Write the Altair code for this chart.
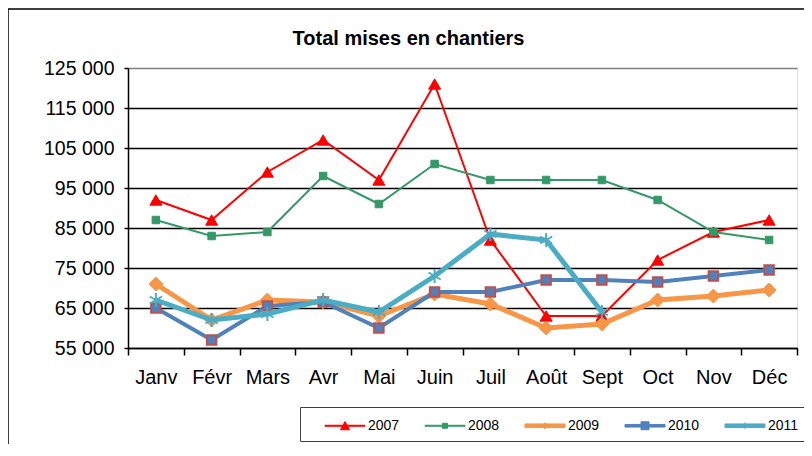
import altair as alt
import pandas as pd

months = ["Janv", "Févr", "Mars", "Avr", "Mai", "Juin", "Juil", "Août", "Sept", "Oct", "Nov", "Déc"]
years = ["2007", "2008", "2009", "2010", "2011"]
v2007 = [92000, 87000, 99000, 107000, 97000, 121000, 82000, 63000, 63000, 77000, 84000, 87000]
v2008 = [87000, 83000, 84000, 98000, 91000, 101000, 97000, 97000, 97000, 92000, 84000, 82000]
v2009 = [71000, 62000, 67000, 66500, 63000, 68500, 66000, 60000, 61000, 67000, 68000, 69500]
v2010 = [65000, 57000, 65500, 66500, 60000, 69000, 69000, 72000, 72000, 71500, 73000, 74500]
v2011 = [67000, 62000, 63500, 67000, 64000, 73000, 83500, 82000, 64000]
y_ticks = [55000, 65000, 75000, 85000, 95000, 105000, 115000, 125000]

series = {"2007": v2007, "2008": v2008, "2009": v2009, "2010": v2010, "2011": v2011}
rows = []
for yr, vals in series.items():
    for i, v in enumerate(vals):
        rows.append({"year": yr, "month": months[i], "idx": i, "value": v})
df = pd.DataFrame(rows)

line_colors = ["#FF0000", "#339966", "#F79646", "#4F81BD", "#4BACC6"]
line_widths = [2, 2, 5, 4, 5]
marker_fill = ["#FF0000", "#339966", "#F79646", "#4F81BD", "#4BACC6"]
marker_stroke = ["#FF0000", "#339966", "#F79646", "#C0504D", "#4BACC6"]
marker_stroke_w = [1, 1, 1, 2, 2]
asterisk = "M0,-1V1M-0.87,-0.5L0.87,0.5M-0.87,0.5L0.87,-0.5"
marker_shapes = ["triangle-up", "square", "diamond", "square", asterisk]
marker_sizes = [144, 56, 196, 90, 196]

# legend symbols: filled bar (the line) + marker, shifted right of the entry origin
legend_shapes = [
    "M0.65,-0.05H4.65V0.05H0.65ZM2.2,0.4L2.65,-0.42L3.1,0.4Z",
    "M0.65,-0.05H4.65V0.05H0.65ZM2.4,-0.25H2.9V0.25H2.4Z",
    "M0.65,-0.18H4.65V0.18H0.65ZM2.65,-0.3L2.95,0L2.65,0.3L2.35,0Z",
    "M0.65,-0.13H4.65V0.13H0.65ZM2.25,-0.4H3.05V0.4H2.25Z",
    "M0.65,-0.18H4.65V0.18H0.65ZM2.65,-0.35V0.35M2.35,-0.18L2.95,0.18M2.35,0.18L2.95,-0.18",
]

FONT = "Liberation Sans"

x_enc = alt.X(
    "month:N",
    sort=months,
    bandPosition=0.5,
    scale=alt.Scale(type="band", paddingInner=0, paddingOuter=0),
    axis=alt.Axis(
        title=None, tickBand="extent", tickSize=7, tickColor="#000000", tickWidth=1.5,
        domainColor="#000000", domainWidth=1.5, labelFontSize=20, labelFont=FONT,
        labelColor="#000000", labelPadding=12, labelAngle=0, grid=False,
    ),
)
y_enc = alt.Y(
    "value:Q",
    scale=alt.Scale(domain=[55000, 125000], nice=False, zero=False),
    axis=alt.Axis(
        title=None, values=y_ticks, tickSize=4, tickColor="#000000", tickWidth=1.5,
        domainColor="#000000", domainWidth=1.5, labelFontSize=19.5, labelFont=FONT,
        labelColor="#000000", labelPadding=10,
        labelExpr="replace(format(datum.value, ','), ',', ' ')",
        grid=True,
        gridColor={"condition": {"test": "datum.value == 125000", "value": "#808080"}, "value": "#000000"},
        gridWidth=1.5,
    ),
)

base = alt.Chart(df)
layers = []
for k, yr in enumerate(years):
    sub = base.transform_filter(alt.datum.year == yr)
    layers.append(
        sub.mark_line(color=line_colors[k], strokeWidth=line_widths[k]).encode(
            x=x_enc, y=y_enc, order="idx:Q"
        )
    )
    layers.append(
        sub.mark_point(
            shape=marker_shapes[k], filled=True, fill=marker_fill[k], stroke=marker_stroke[k],
            strokeWidth=marker_stroke_w[k], size=marker_sizes[k], opacity=1,
        ).encode(x=x_enc, y=y_enc)
    )

legend_layer = base.transform_filter("false").mark_point(filled=True, opacity=1, size=400).encode(
    shape=alt.Shape(
        "year:N", scale=alt.Scale(domain=years, range=legend_shapes),
        legend=alt.Legend(
            title=None, orient="none", legendX=172, legendY=339, direction="horizontal",
            columns=5, labelFontSize=14, labelFont=FONT, labelColor="#000000",
            symbolSize=400, symbolStrokeWidth=1, strokeColor="#404040", fillColor="#FFFFFF",
            padding=8, columnPadding=8, labelOffset=39,
        ),
    ),
    fill=alt.Fill("year:N", scale=alt.Scale(domain=years, range=line_colors), legend=alt.Legend(title=None)),
    stroke=alt.Stroke("year:N", scale=alt.Scale(domain=years, range=line_colors), legend=alt.Legend(title=None)),
)
layers.append(legend_layer)

frame = alt.Chart(pd.DataFrame({"a": [0]})).mark_rect(
    fill="transparent", stroke="#000000", strokeWidth=1.5
).encode(
    x=alt.value(-120), x2=alt.value(700), y=alt.value(-59), y2=alt.value(420)
)
layers.append(frame)

chart = alt.layer(*layers).properties(
    width=669,
    height=280,
    padding={"left": 120, "top": 60, "right": 7, "bottom": 96},
    autosize=alt.AutoSizeParams(type="none"),
    title=alt.Title(
        "Total mises en chantiers", fontSize=20, font=FONT, fontWeight="bold",
        anchor="middle", dx=-54, offset=0, dy=41, color="#000000",
    ),
).configure_view(
    fill="#C0C0C0", stroke="#808080", strokeWidth=2
).configure(background="#FFFFFF")

chart.save("out.html", embed_options={"renderer": "svg", "actions": False})
